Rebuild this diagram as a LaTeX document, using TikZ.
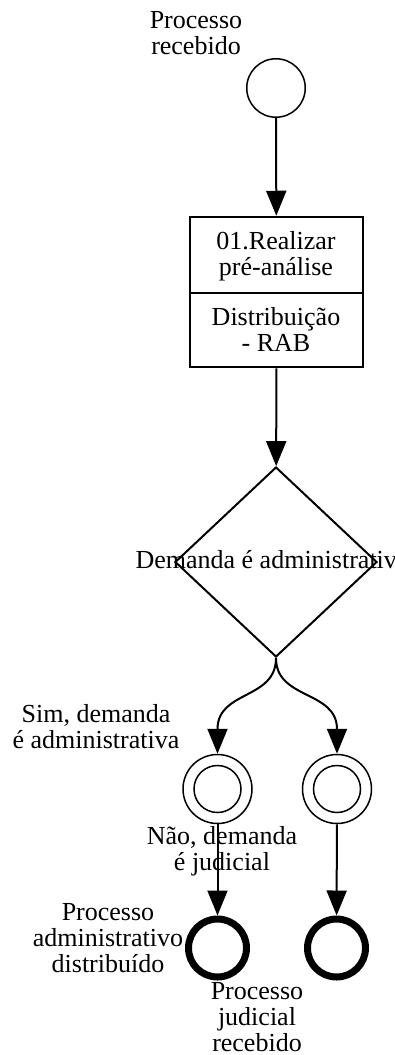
\documentclass[tikz,border=0pt]{standalone}
\usepackage{fontspec}
\setmainfont{Liberation Serif}
\usetikzlibrary{arrows.meta,shapes.geometric}
\begin{document}
\begin{tikzpicture}[x=1pt,y=-1pt,
  font=\fontsize{26}{26}\selectfont,
  arr/.style={line width=2pt,-{Triangle[length=25pt,width=20pt]}},
  lbl/.style={align=center,inner sep=0pt},
  startev/.style={circle,draw,line width=1.5pt,minimum size=58.5pt,inner sep=0pt},
  interev/.style={circle,draw,line width=1.5pt,minimum size=69pt,inner sep=0pt},
  endev/.style={circle,draw,line width=7pt,minimum size=58pt,inner sep=0pt},
  taskbox/.style={rectangle,draw,line width=2.5pt,minimum width=173pt,minimum height=150pt,inner sep=0pt},
  gateway/.style={diamond,draw,line width=2pt,minimum width=202pt,minimum height=190pt,inner sep=0pt}]
\useasboundingbox (0,0) rectangle (395,1055);
\clip (0,0) rectangle (395,1055);

\node[startev] (start) at (276,88) {};
\node[lbl] (startl) at (196,33) {Processo\\recebido};

\node[taskbox] (task) at (276.5,292) {};
\coordinate (divl) at (190,293);
\coordinate (divr) at (363,293);
\draw[line width=2.5pt] (divl) -- (divr);
\node[lbl] (t1) at (276,256) {01.Realizar\\pré-análise};
\node[lbl] (t2) at (276,330) {Distribuição\\- RAB};

\node[gateway] (gw) at (276,562) {};
\node[lbl] (gwl) at (272,560) {Demanda é administrativa};

\node[interev] (i1) at (217.5,789) {};
\draw[line width=1.5pt] (i1.center) circle[radius=23.5pt];
\node[interev] (i2) at (337,789) {};
\draw[line width=1.5pt] (i2.center) circle[radius=23.5pt];

\node[endev] (e1) at (217.5,948) {};
\node[endev] (e2) at (336.5,948) {};

\draw[arr] (start) -- (task);
\draw[arr] (task) -- (gw);
\draw[arr] (gw.south) .. controls (276,700) and (217.5,690) .. (i1.north);
\draw[arr] (gw.south) .. controls (276,700) and (337,690) .. (i2.north);
\draw[arr] (i1) -- (e1);
\draw[arr] (i2) -- (e2);

\node[lbl] (siml) at (96,727) {Sim, demanda\\é administrativa};
\node[lbl] (naol) at (222,851) {Não, demanda\\é judicial};
\node[lbl] (e1l) at (108,938) {Processo\\administrativo\\distribuído};
\node[lbl] (e2l) at (257,1017) {Processo\\judicial\\recebido};
\end{tikzpicture}
\end{document}
